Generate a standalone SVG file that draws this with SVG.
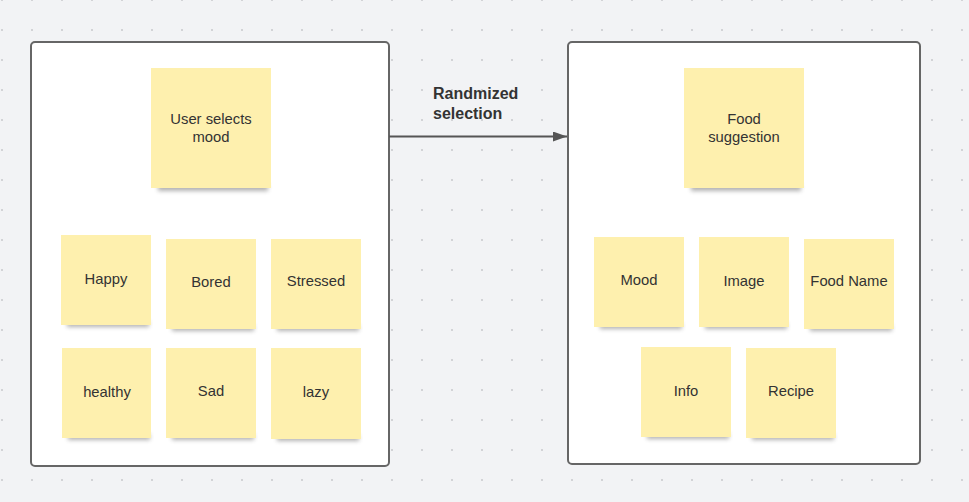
<svg xmlns="http://www.w3.org/2000/svg" width="969" height="502" viewBox="0 0 969 502">
<defs>
<pattern id="dots" x="1" y="-1" width="30" height="30" patternUnits="userSpaceOnUse">
<circle cx="1" cy="1" r="0.8" fill="#a9abb0"/>
</pattern>
<filter id="blur" x="-20%" y="-100%" width="140%" height="300%"><feGaussianBlur stdDeviation="2"/></filter>
<marker id="arr" viewBox="0 0 14 10" refX="14" refY="5" markerWidth="14" markerHeight="10" markerUnits="userSpaceOnUse" orient="auto"><path d="M0,0 L14,5 L0,10 Z" fill="#555"/></marker>
<style>
.frame{fill:#fff;stroke:#666;stroke-width:2}
.note{fill:#fef0ae}
.sh{fill:#555;opacity:0.45;filter:url(#blur)}
.t{font-family:"Liberation Sans",Arial,sans-serif;font-size:14.8px;fill:#333;text-anchor:middle}
.lbl{font-family:"Liberation Sans",Arial,sans-serif;font-size:16px;font-weight:bold;fill:#333}
</style>
</defs>
<rect width="969" height="502" fill="#f2f3f5"/>
<rect width="969" height="502" fill="url(#dots)"/>
<rect id="left-frame" class="frame" x="31" y="42" width="358" height="424" rx="4"/>
<rect id="right-frame" class="frame" x="568" y="42" width="352" height="422" rx="4"/>
<g id="connectors">
<line x1="389" y1="136.5" x2="567" y2="136.5" stroke="#555" stroke-width="2" marker-end="url(#arr)"/>
<text class="lbl" x="433" y="99">Randmized</text>
<text class="lbl" x="433" y="119">selection</text>
</g>
<g id="user-selects-mood"><rect class="sh" x="158" y="184" width="110" height="7"/><rect class="note" x="151" y="68" width="120" height="120"/><text class="t" x="211" y="124">User selects</text><text class="t" x="211" y="142">mood</text></g>
<g id="happy"><rect class="sh" x="67" y="321" width="82" height="6"/><rect class="note" x="61" y="235" width="90" height="90"/><text class="t" x="106" y="284">Happy</text></g>
<g id="bored"><rect class="sh" x="172" y="325" width="82" height="6"/><rect class="note" x="166" y="239" width="90" height="90"/><text class="t" x="211" y="287">Bored</text></g>
<g id="stressed"><rect class="sh" x="277" y="325" width="82" height="6"/><rect class="note" x="271" y="239" width="90" height="90"/><text class="t" x="316" y="286">Stressed</text></g>
<g id="healthy"><rect class="sh" x="68" y="434" width="82" height="6"/><rect class="note" x="62" y="348" width="89" height="90"/><text class="t" x="107" y="397">healthy</text></g>
<g id="sad"><rect class="sh" x="172" y="434" width="82" height="6"/><rect class="note" x="166" y="348" width="90" height="90"/><text class="t" x="211" y="396">Sad</text></g>
<g id="lazy"><rect class="sh" x="277" y="435" width="82" height="6"/><rect class="note" x="271" y="348" width="90" height="91"/><text class="t" x="316" y="397">lazy</text></g>
<g id="food-suggestion"><rect class="sh" x="691" y="184" width="110" height="7"/><rect class="note" x="684" y="68" width="120" height="120"/><text class="t" x="744" y="124">Food</text><text class="t" x="744" y="142">suggestion</text></g>
<g id="mood"><rect class="sh" x="600" y="323" width="82" height="6"/><rect class="note" x="594" y="237" width="90" height="90"/><text class="t" x="639" y="285">Mood</text></g>
<g id="image"><rect class="sh" x="705" y="323" width="82" height="6"/><rect class="note" x="699" y="237" width="90" height="90"/><text class="t" x="744" y="286">Image</text></g>
<g id="food-name"><rect class="sh" x="810" y="325" width="82" height="6"/><rect class="note" x="804" y="239" width="90" height="90"/><text class="t" x="849" y="286">Food Name</text></g>
<g id="info"><rect class="sh" x="647" y="433" width="82" height="6"/><rect class="note" x="641" y="347" width="90" height="90"/><text class="t" x="686" y="396">Info</text></g>
<g id="recipe"><rect class="sh" x="752" y="434" width="82" height="6"/><rect class="note" x="746" y="348" width="90" height="90"/><text class="t" x="791" y="396">Recipe</text></g>
</svg>
